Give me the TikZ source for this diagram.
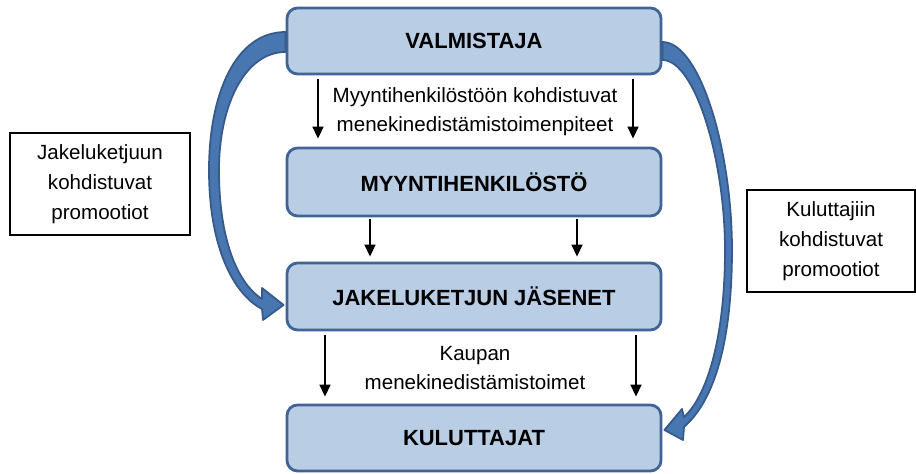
\documentclass[tikz,border=0pt]{standalone}
\usepackage{fontspec}
\setmainfont{Liberation Sans}
\usepackage{xcolor}
\usepackage{tikz}
\usetikzlibrary{
    positioning,
    arrows.meta,
    calc,
}
\definecolor{boxfill}{RGB}{185,205,229}
\definecolor{boxline}{RGB}{65,100,150}
\definecolor{arrowfill}{RGB}{72,118,176}
\definecolor{arrowline}{RGB}{54,90,138}
\tikzset{
    % Node styles
    stage/.style={rectangle, draw=boxline, line width=1.6pt, rounded corners=6pt,
                  fill=boxfill, minimum width=7.48cm, minimum height=1.32cm,
                  font=\fontsize{12.5}{15}\selectfont\bfseries},
    note box/.style={rectangle, draw, line width=0.6pt, fill=white,
                     minimum width=3.6cm, minimum height=2.04cm, align=center,
                     font=\fontsize{11.7}{17}\selectfont},
    annot/.style={align=center, font=\fontsize{11.7}{16.5}\selectfont},
    % Arrow styles
    flow/.style={-{Triangle[width=2.2mm, length=2.4mm]}, line width=0.9pt},
    promo arrow/.style={fill=arrowfill, draw=arrowline, line width=1pt, line join=round},
}

\begin{document}
\begin{tikzpicture}
    \useasboundingbox (0,0) rectangle (18.32,9.48);

    % Chain
    \node[stage] (valm) at (9.48, 8.66) {VALMISTAJA};
    \node[stage, minimum height=1.36cm] (myyn) at (9.48, 5.84) {MYYNTIHENKILÖSTÖ};
    \node[stage, minimum height=1.34cm] (jake) at (9.48, 3.55) {JAKELUKETJUN JÄSENET};
    \node[stage] (kulu) at (9.48, 0.72) {KULUTTAJAT};

    % Texts between stages
    \node[annot] (myynti promo) at (9.50, 7.25) {Myyntihenkilöstöön kohdistuvat\\menekinedistämistoimenpiteet};
    \node[annot] (kauppa promo) at (9.50, 2.12) {Kaupan\\menekinedistämistoimet};

    % Side notes
    \node[note box] (jake note) at (2.00, 5.80) {Jakeluketjuun\\kohdistuvat\\promootiot};
    \node[note box, minimum width=3.36cm] (kulu note) at (16.62, 4.66) {Kuluttajiin\\kohdistuvat\\promootiot};

    % Straight arrows
    \draw[flow] ([xshift=-3.12cm, yshift=-0.08cm]valm.south) -- ([xshift=-3.12cm, yshift=0.16cm]myyn.north);
    \draw[flow] ([xshift=3.18cm, yshift=-0.08cm]valm.south) -- ([xshift=3.18cm, yshift=0.16cm]myyn.north);
    \draw[flow] ([xshift=-2.08cm, yshift=-0.04cm]myyn.south) -- ([xshift=-2.08cm, yshift=0.10cm]jake.north);
    \draw[flow] ([xshift=2.06cm, yshift=-0.04cm]myyn.south) -- ([xshift=2.06cm, yshift=0.10cm]jake.north);
    \draw[flow] ([xshift=-2.98cm, yshift=-0.08cm]jake.south) -- ([xshift=-2.98cm, yshift=0.14cm]kulu.north);
    \draw[flow] ([xshift=3.24cm, yshift=-0.08cm]jake.south) -- ([xshift=3.24cm, yshift=0.14cm]kulu.north);

    % Curved promotion arrows
    \filldraw[promo arrow] ([yshift=1.8mm]valm.west)
        .. controls (4.70,8.84) and (4.18,7.58) .. (4.18,6.08)
        .. controls (4.18,4.48) and (4.70,3.58) .. (5.24,3.30)
        -- (5.26,3.08) -- ([shift={(-0.04,-0.17)}]jake.west) -- (5.24,3.72) -- (5.24,3.50)
        .. controls (4.80,3.78) and (4.38,4.58) .. (4.38,6.08)
        .. controls (4.38,7.38) and (4.90,8.44) .. ([yshift=-2.2mm]valm.west) -- cycle;
    \filldraw[promo arrow] ([yshift=-0.2mm]valm.east)
        .. controls (14.00,8.64) and (14.64,6.48) .. (14.64,4.48)
        .. controls (14.64,2.68) and (14.30,1.48) .. (13.68,0.94)
        -- (13.66,0.68) -- ([shift={(0.04,0.16)}]kulu.east) -- (13.64,1.30) -- (13.68,1.14)
        .. controls (14.16,1.58) and (14.50,2.78) .. (14.50,4.48)
        .. controls (14.50,6.28) and (13.90,8.28) .. ([yshift=-3.8mm]valm.east) -- cycle;
\end{tikzpicture}
\end{document}
